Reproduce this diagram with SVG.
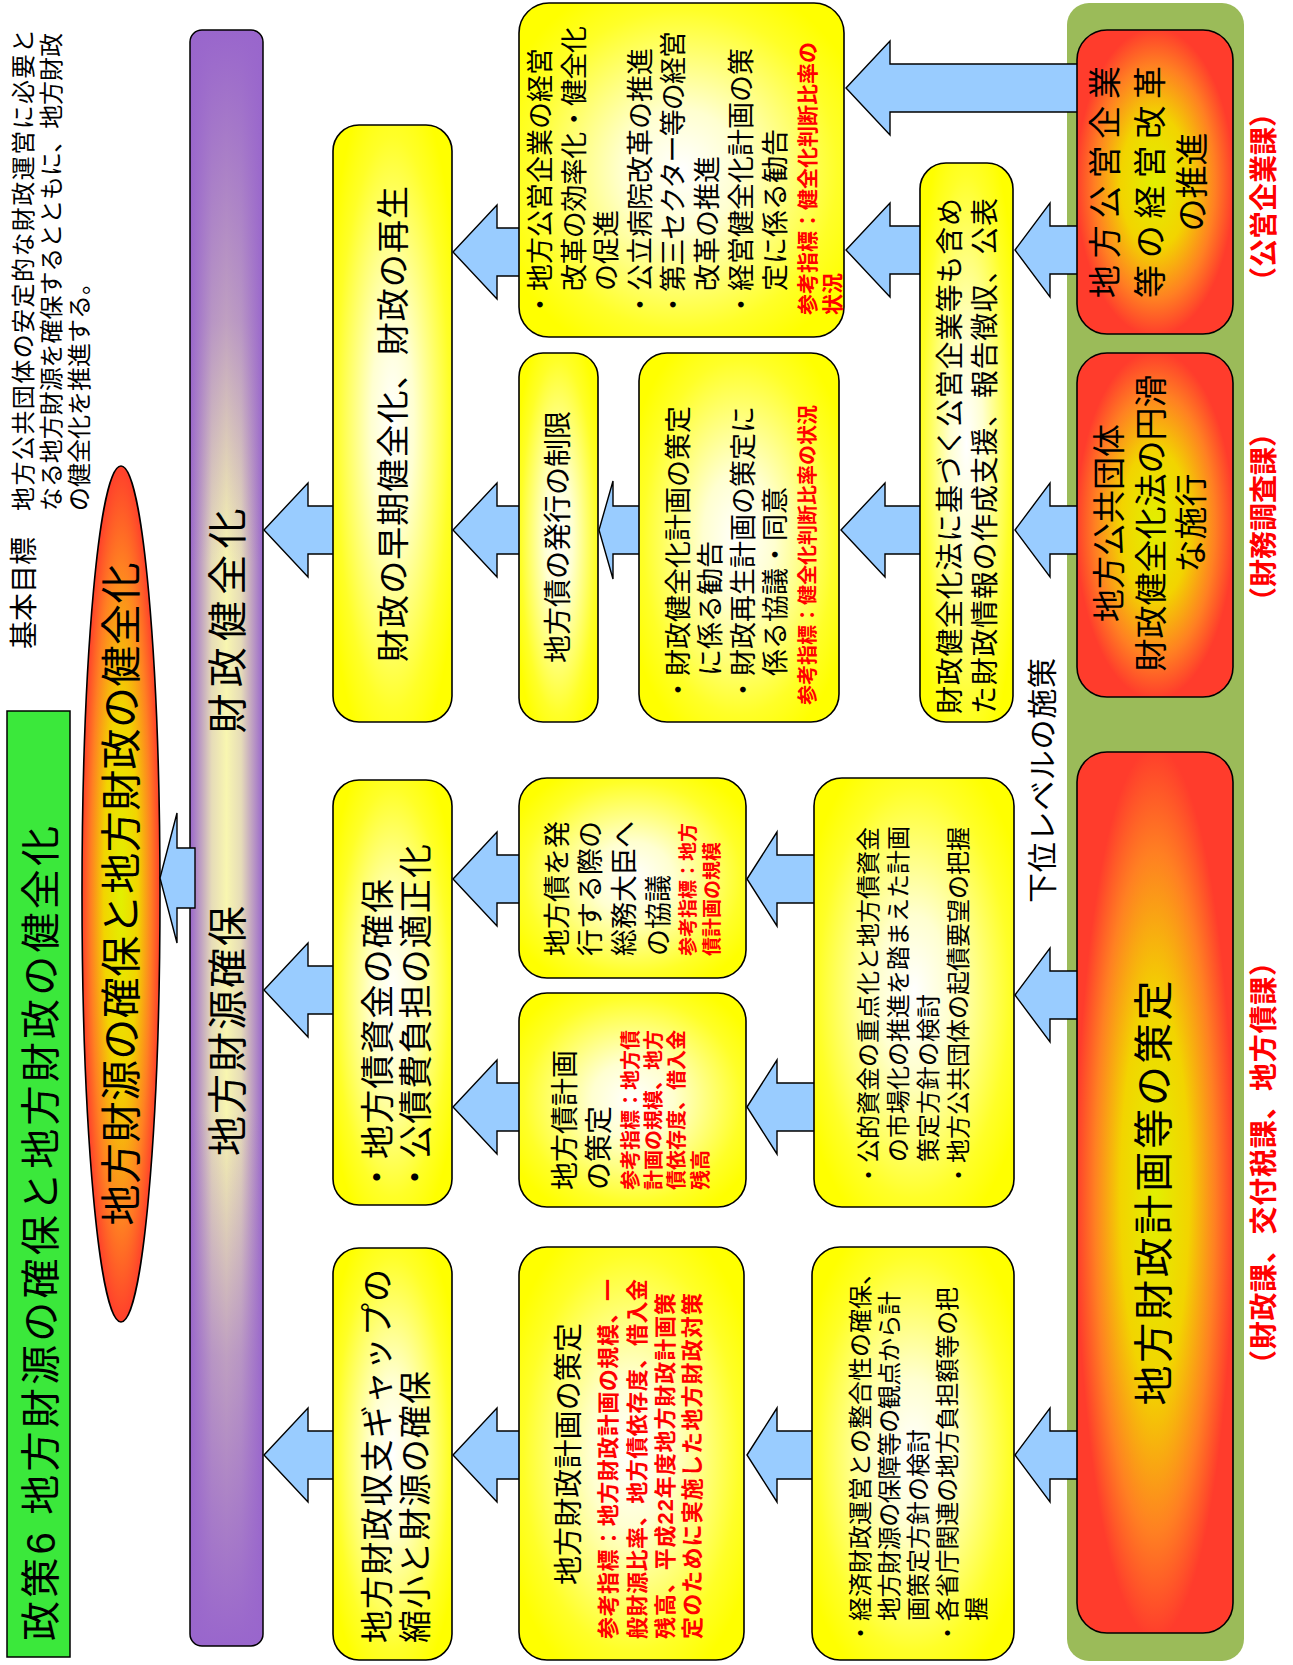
<svg xmlns="http://www.w3.org/2000/svg" width="1293" height="1665" viewBox="0 0 1293 1665">
<style>
text{font-family:"Liberation Sans","Noto Sans CJK JP",sans-serif;fill:#000}
.red{fill:#ff0000;font-weight:bold}
.mid{text-anchor:middle}
.box{fill:url(#gYel);stroke:#000;stroke-width:1.6}
.rbox{fill:url(#gRed);stroke:#000;stroke-width:1.6}
.arr{fill:#99ccff;stroke:#000;stroke-width:1.4;stroke-linejoin:miter}
</style>
<defs>
<radialGradient id="gYel" cx="0.5" cy="0.5" r="0.6">
<stop offset="0" stop-color="#ffffff"/>
<stop offset="0.3" stop-color="#ffffd0"/>
<stop offset="0.8" stop-color="#ffff28"/>
<stop offset="1" stop-color="#ffff00"/>
</radialGradient>
<radialGradient id="gRed" cx="0.5" cy="0.5" r="0.55">
<stop offset="0" stop-color="#e2f000"/>
<stop offset="0.4" stop-color="#f2d400"/>
<stop offset="0.7" stop-color="#ff8022"/>
<stop offset="0.92" stop-color="#ff3c2c"/>
</radialGradient>
<linearGradient id="gPurW" x1="0" y1="0" x2="0" y2="1">
<stop offset="0" stop-color="#9966cc"/>
<stop offset="0.3" stop-color="#e6dcb8"/>
<stop offset="0.5" stop-color="#f8f6b0"/>
<stop offset="0.7" stop-color="#e6dcb8"/>
<stop offset="1" stop-color="#9966cc"/>
</linearGradient>
<linearGradient id="gPurL" x1="0" y1="0" x2="1" y2="0">
<stop offset="0" stop-color="#9966cc" stop-opacity="1"/>
<stop offset="0.18" stop-color="#9966cc" stop-opacity="0.6"/>
<stop offset="0.33" stop-color="#9966cc" stop-opacity="0"/>
<stop offset="0.67" stop-color="#9966cc" stop-opacity="0"/>
<stop offset="0.82" stop-color="#9966cc" stop-opacity="0.6"/>
<stop offset="1" stop-color="#9966cc" stop-opacity="1"/>
</linearGradient>
</defs>
<rect width="1293" height="1665" fill="#ffffff"/>
<g transform="translate(0,1665) rotate(-90)">

<g id="header">
<rect x="8" y="7" width="946" height="63" fill="#3be83b" stroke="#000" stroke-width="1.5"/>
<text x="24" y="55" font-size="40" textLength="815" lengthAdjust="spacing">政策6 地方財源の確保と地方財政の健全化</text>
<text x="1016" y="34" font-size="28">基本目標</text>
<text x="1154" y="32" font-size="24" textLength="482" lengthAdjust="spacing">地方公共団体の安定的な財政運営に必要と</text>
<text x="1154" y="60" font-size="24" textLength="478" lengthAdjust="spacing">なる地方財源を確保するとともに、地方財政</text>
<text x="1154" y="88" font-size="24">の健全化を推進する。</text>
</g>

<g id="goal">
<ellipse cx="771" cy="121" rx="428" ry="39" fill="url(#gRed)" stroke="#000" stroke-width="1.6"/>
<text class="mid" x="771" y="136" font-size="41" textLength="663" lengthAdjust="spacing">地方財源の確保と地方財政の健全化</text>
</g>

<g id="bar">
<rect x="19" y="190" width="1616" height="73" rx="12" fill="url(#gPurW)"/>
<rect x="19" y="190" width="1616" height="73" rx="12" fill="url(#gPurL)" stroke="#000" stroke-width="1.5"/>
<text class="mid" x="1044" y="242" font-size="40" textLength="225" lengthAdjust="spacing">財政健全化</text>
<text class="mid" x="634" y="242" font-size="40" textLength="250" lengthAdjust="spacing">地方財源確保</text>
</g>

<g id="measures-bg">
<rect x="4" y="1067" width="1658" height="177" rx="22" fill="#9bbb59"/>
</g>

<g id="connectors">
<path class="arr" d="M1577,846 L1624,890 L1601,890 L1601,1085 L1553,1085 L1553,890 L1530,890 Z"/>
<path class="arr" d="M1415,1015 L1462,1050 L1439,1050 L1439,1085 L1391,1085 L1391,1050 L1368,1050 Z"/>
<path class="arr" d="M1135,1015 L1182,1050 L1159,1050 L1159,1085 L1111,1085 L1111,1050 L1088,1050 Z"/>
<path class="arr" d="M1415,846 L1462,890 L1439,890 L1439,925 L1391,925 L1391,890 L1368,890 Z"/>
<path class="arr" d="M1135,841 L1182,885 L1159,885 L1159,925 L1111,925 L1111,885 L1088,885 Z"/>
<path class="arr" d="M1135,599 L1184,613 L1159,613 L1159,645 L1111,645 L1111,613 L1086,613 Z"/>
<path class="arr" d="M1135,453 L1182,497 L1159,497 L1159,525 L1111,525 L1111,497 L1088,497 Z"/>
<path class="arr" d="M1413,453 L1460,497 L1437,497 L1437,525 L1389,525 L1389,497 L1366,497 Z"/>
<path class="arr" d="M1135,264 L1182,308 L1159,308 L1159,338 L1111,338 L1111,308 L1088,308 Z"/>
<path class="arr" d="M670,1015 L717,1050 L694,1050 L694,1085 L646,1085 L646,1050 L623,1050 Z"/>
<path class="arr" d="M210,1015 L257,1050 L234,1050 L234,1085 L186,1085 L186,1050 L163,1050 Z"/>
<path class="arr" d="M786,747 L833,777 L810,777 L810,818 L762,818 L762,777 L739,777 Z"/>
<path class="arr" d="M558,747 L605,777 L582,777 L582,818 L534,818 L534,777 L511,777 Z"/>
<path class="arr" d="M786,453 L833,497 L810,497 L810,525 L762,525 L762,497 L739,497 Z"/>
<path class="arr" d="M558,453 L605,497 L582,497 L582,525 L534,525 L534,497 L511,497 Z"/>
<path class="arr" d="M675,264 L722,308 L699,308 L699,338 L651,338 L651,308 L628,308 Z"/>
<path class="arr" d="M210,747 L257,777 L234,777 L234,818 L186,818 L186,777 L163,777 Z"/>
<path class="arr" d="M210,453 L257,497 L234,497 L234,525 L186,525 L186,497 L163,497 Z"/>
<path class="arr" d="M210,264 L257,308 L234,308 L234,338 L186,338 L186,308 L163,308 Z"/>
<path class="arr" d="M787,160 L852,177 L817,177 L817,195 L757,195 L757,177 L722,177 Z"/>
</g>

<g id="n-early">
<rect class="box" x="943" y="333" width="597" height="119" rx="26"/>
<text class="mid" x="1241" y="405" font-size="33" textLength="476" lengthAdjust="spacing">財政の早期健全化、財政の再生</text>
</g>
<g id="n-bondfund">
<rect class="box" x="460" y="333" width="425" height="119" rx="26"/>
<text x="471" y="390" font-size="34" textLength="315" lengthAdjust="spacing">・地方債資金の確保</text>
<text x="471" y="428" font-size="34" textLength="350" lengthAdjust="spacing">・公債費負担の適正化</text>
</g>
<g id="n-gap">
<rect class="box" x="5" y="333" width="412" height="119" rx="26"/>
<text x="22" y="389" font-size="33" textLength="374" lengthAdjust="spacing">地方財政収支ギャップの</text>
<text x="22" y="427" font-size="33" textLength="272" lengthAdjust="spacing">縮小と財源の確保</text>
</g>

<g id="n-enterprise">
<rect class="box" x="1328" y="519" width="334" height="325" rx="30"/>
<text x="1347" y="550" font-size="27">・地方公営企業の経営</text>
<text x="1374" y="584" font-size="27" textLength="265" lengthAdjust="spacing">改革の効率化・健全化</text>
<text x="1374" y="616" font-size="27">の促進</text>
<text x="1347" y="650" font-size="27">・公立病院改革の推進</text>
<text x="1347" y="683" font-size="27" textLength="287" lengthAdjust="spacing">・第三セクター等の経営</text>
<text x="1374" y="717" font-size="27">改革の推進</text>
<text x="1347" y="751" font-size="27">・経営健全化計画の策</text>
<text x="1374" y="785" font-size="27">定に係る勧告</text>
<text class="red" x="1350" y="815" font-size="21">参考指標：健全化判断比率の</text>
<text class="red" x="1350" y="840" font-size="21">状況</text>
</g>
<g id="n-limit">
<rect class="box" x="943" y="519" width="369" height="79" rx="24"/>
<text class="mid" x="1128" y="568" font-size="28" textLength="252" lengthAdjust="spacing">地方債の発行の制限</text>
</g>
<g id="n-plan">
<rect class="box" x="943" y="639" width="369" height="200" rx="28"/>
<text x="962" y="688" font-size="27">・財政健全化計画の策定</text>
<text x="989" y="720" font-size="27">に係る勧告</text>
<text x="962" y="753" font-size="27">・財政再生計画の策定に</text>
<text x="989" y="785" font-size="27">係る協議・同意</text>
<text class="red" x="960" y="815" font-size="20">参考指標：健全化判断比率の状況</text>
</g>
<g id="n-consult">
<rect class="box" x="687" y="519" width="200" height="227" rx="28"/>
<text x="709" y="567" font-size="27">地方債を発</text>
<text x="709" y="600" font-size="27">行する際の</text>
<text x="709" y="634" font-size="27">総務大臣へ</text>
<text x="709" y="668" font-size="27">の協議</text>
<text class="red" x="709" y="695" font-size="19">参考指標：地方</text>
<text class="red" x="709" y="719" font-size="19">債計画の規模</text>
</g>
<g id="n-bondplan">
<rect class="box" x="458" y="519" width="214" height="227" rx="28"/>
<text x="475" y="575" font-size="28">地方債計画</text>
<text x="475" y="609" font-size="28">の策定</text>
<text class="red" x="475" y="638" font-size="20">参考指標：地方債</text>
<text class="red" x="475" y="661" font-size="20">計画の規模、地方</text>
<text class="red" x="475" y="684" font-size="20">債依存度、借入金</text>
<text class="red" x="475" y="708" font-size="20">残高</text>
</g>
<g id="n-finplan">
<rect class="box" x="5" y="519" width="413" height="225" rx="28"/>
<text class="mid" x="211" y="579" font-size="29" textLength="262" lengthAdjust="spacing">地方財政計画の策定</text>
<text class="red" x="26" y="616" font-size="22" textLength="360" lengthAdjust="spacing">参考指標：地方財政計画の規模、一</text>
<text class="red" x="26" y="645" font-size="22" textLength="360" lengthAdjust="spacing">般財源比率、地方債依存度、借入金</text>
<text class="red" x="26" y="673" font-size="22" textLength="346" lengthAdjust="spacing">残高、平成22年度地方財政計画策</text>
<text class="red" x="26" y="700" font-size="22" textLength="346" lengthAdjust="spacing">定のために実施した地方財政対策</text>
</g>

<g id="n-info">
<rect class="box" x="943" y="920" width="559" height="93" rx="26"/>
<text x="951" y="960" font-size="28" textLength="516" lengthAdjust="spacing">財政健全化法に基づく公営企業等も含め</text>
<text x="951" y="995" font-size="28" textLength="516" lengthAdjust="spacing">た財政情報の作成支援、報告徴収、公表</text>
</g>
<g id="n-public">
<rect class="box" x="458" y="814" width="429" height="200" rx="28"/>
<text x="478" y="877" font-size="24" textLength="360" lengthAdjust="spacing">・公的資金の重点化と地方債資金</text>
<text x="503" y="907" font-size="24" textLength="336" lengthAdjust="spacing">の市場化の推進を踏まえた計画</text>
<text x="503" y="937" font-size="24">策定方針の検討</text>
<text x="478" y="967" font-size="24" textLength="360" lengthAdjust="spacing">・地方公共団体の起債要望の把握</text>
</g>
<g id="n-economy">
<rect class="box" x="5" y="812" width="413" height="202" rx="28"/>
<text x="20" y="869" font-size="24" textLength="384" lengthAdjust="spacing">・経済財政運営との整合性の確保、</text>
<text x="44" y="898" font-size="24" textLength="330" lengthAdjust="spacing">地方財源の保障等の観点から計</text>
<text x="44" y="927" font-size="24">画策定方針の検討</text>
<text x="20" y="956" font-size="24" textLength="358" lengthAdjust="spacing">・各省庁関連の地方負担額等の把</text>
<text x="44" y="985" font-size="24">握</text>
</g>

<g id="n-r1">
<rect class="rbox" x="1331" y="1077" width="304" height="156" rx="30"/>
<text class="mid" x="1483" y="1117" font-size="33" textLength="232" lengthAdjust="spacing">地方公営企業</text>
<text class="mid" x="1483" y="1162" font-size="33" textLength="232" lengthAdjust="spacing">等の経営改革</text>
<text class="mid" x="1483" y="1204" font-size="33">の推進</text>
</g>
<g id="n-r2">
<rect class="rbox" x="968" y="1077" width="344" height="156" rx="30"/>
<text class="mid" x="1142" y="1121" font-size="33">地方公共団体</text>
<text class="mid" x="1142" y="1163" font-size="33">財政健全化法の円滑</text>
<text class="mid" x="1142" y="1203" font-size="33">な施行</text>
</g>
<g id="n-r3">
<rect class="rbox" x="32" y="1077" width="881" height="156" rx="30"/>
<text class="mid" x="472" y="1168" font-size="40" textLength="425" lengthAdjust="spacing">地方財政計画等の策定</text>
</g>

<g id="labels">
<text x="762" y="1053" font-size="30" textLength="245" lengthAdjust="spacing">下位レベルの施策</text>
<text class="red mid" x="1468" y="1274" font-size="28" textLength="196" lengthAdjust="spacing">（公営企業課）</text>
<text class="red mid" x="1148" y="1274" font-size="28" textLength="196" lengthAdjust="spacing">（財務調査課）</text>
<text class="red mid" x="502" y="1274" font-size="28" textLength="430" lengthAdjust="spacing">（財政課、交付税課、地方債課）</text>
</g>

</g>
</svg>
